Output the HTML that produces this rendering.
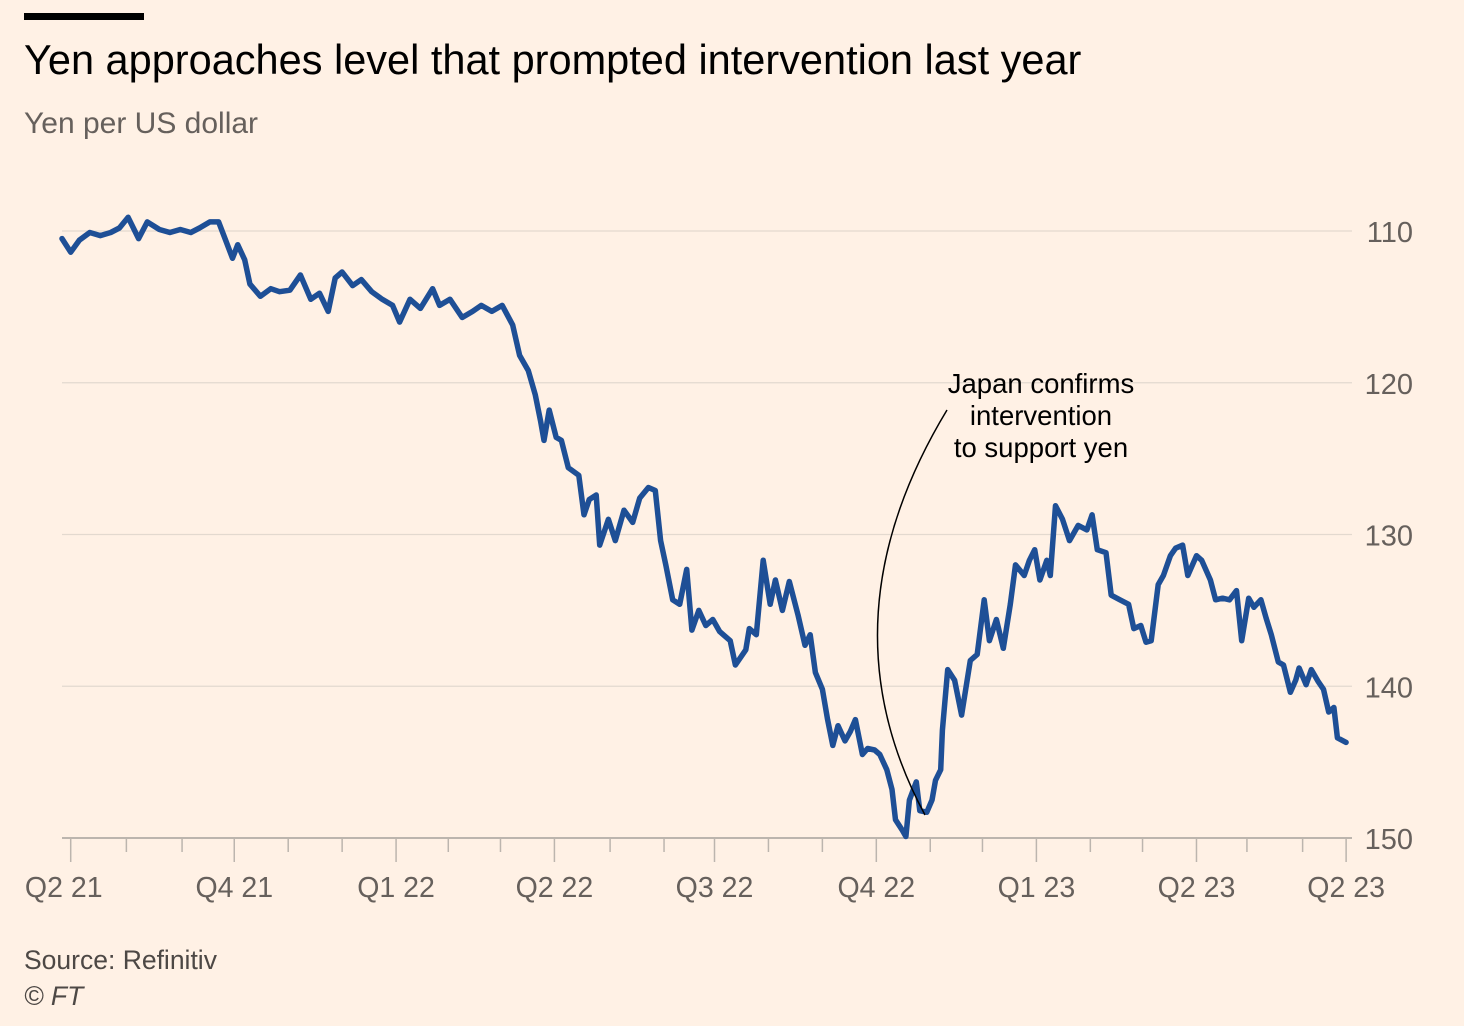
<!DOCTYPE html>
<html><head><meta charset="utf-8">
<style>
body{margin:0;background:#fff1e5;font-family:"Liberation Sans",sans-serif;}
#wrap{position:relative;width:1464px;height:1026px;overflow:hidden;background:#fff1e5;}
.t{position:absolute;white-space:nowrap;}
</style></head>
<body>
<div id="wrap">
<div style="position:absolute;left:24px;top:13px;width:120px;height:7px;background:#000"></div>
<div class="t" style="left:24px;top:36px;font-size:41.5px;color:#000">Yen approaches level that prompted intervention last year</div>
<div class="t" style="left:24px;top:107px;font-size:30px;color:#66605c">Yen per US dollar</div>
<svg id="chart" width="1464" height="1026" style="position:absolute;left:0;top:0" font-family="Liberation Sans, sans-serif"></svg>
<div class="t" style="left:24px;top:945px;font-size:26.5px;color:#4d4845">Source: Refinitiv</div>
<div class="t" style="left:24px;top:981px;font-size:26.5px;color:#4d4845;font-style:italic">© FT</div>
</div>
<script>
const days=[0,5,10,16,22,28,33,38,44,49,56,62,68,74,79,85,90,94,98,101,105,108,114,120,125,131,137,143,148,153,157,161,167,172,178,184,190,194,200,206,213,217,223,230,236,241,247,253,259,263,268,272,275,277,280,284,287,291,297,300,303,307,309,314,318,323,328,332,337,341,344,347,351,355,359,362,366,370,374,378,384,387,393,395,399,403,407,410,414,418,423,427,430,433,437,440,443,446,450,453,456,460,463,467,470,474,477,479,483,485,487,491,493,497,500,502,505,506,509,513,517,522,526,530,533,537,541,545,548,553,556,559,562,566,568,571,575,579,584,589,592,595,600,603,608,613,616,620,623,626,630,633,637,640,644,647,652,655,660,663,667,671,675,678,682,685,689,692,695,699,702,706,709,711,715,718,722,725,728,731,733,738];
const yen=[110.5,111.4,110.6,110.1,110.3,110.1,109.8,109.1,110.5,109.4,109.9,110.1,109.9,110.1,109.8,109.4,109.4,110.6,111.8,110.9,111.9,113.5,114.3,113.8,114.0,113.9,112.9,114.5,114.1,115.3,113.1,112.7,113.6,113.2,114.0,114.5,114.9,116.0,114.5,115.1,113.8,114.9,114.5,115.7,115.3,114.9,115.3,114.9,116.2,118.2,119.2,120.8,122.5,123.8,121.8,123.6,123.8,125.6,126.1,128.7,127.7,127.4,130.7,129.0,130.4,128.4,129.2,127.6,126.9,127.1,130.4,132.0,134.3,134.6,132.3,136.3,135.0,136.0,135.6,136.4,137.0,138.6,137.6,136.2,136.6,131.7,134.6,133.0,135.0,133.1,135.3,137.3,136.6,139.1,140.2,142.2,143.9,142.6,143.6,143.0,142.2,144.5,144.1,144.2,144.5,145.5,146.8,148.8,149.5,149.9,147.5,146.3,148.2,148.3,147.5,146.2,145.5,142.9,138.9,139.6,141.9,138.3,137.9,134.3,137.0,135.6,137.5,134.6,132.0,132.7,131.7,131.0,133.0,131.7,132.7,128.1,129.0,130.4,129.4,129.7,128.7,131.0,131.2,134.0,134.3,134.6,136.2,136.0,137.1,137.0,133.3,132.7,131.4,130.9,130.7,132.7,131.4,131.7,133.0,134.3,134.2,134.3,133.7,137.0,134.2,134.8,134.3,135.5,136.6,138.4,138.6,140.4,139.6,138.8,139.9,138.9,139.7,140.2,141.7,141.4,143.4,143.7];
const yTicks=[110,120,130,140,150];
const xLabels=["Q2 21","Q4 21","Q1 22","Q2 22","Q3 22","Q4 22","Q1 23","Q2 23","Q2 23"];
const xLabelDays=[1,99,192,283,375,468,560,652,738];
const monthDays=[5,37,69,99,130,161,192,222,252,283,315,346,375,406,437,468,499,529,560,591,621,652,681,713,738];

const NS="http://www.w3.org/2000/svg";
const svg=document.getElementById('chart');
const X=d=>62+d*1.74;
const Y=v=>231+(v-110)*15.175;
function mk(tag,attrs,parent){const e=document.createElementNS(NS,tag);for(const k in attrs)e.setAttribute(k,attrs[k]);(parent||svg).appendChild(e);return e;}

yTicks.forEach(v=>{
  const g=mk('line',{x1:62,x2:1352,y1:Y(v),y2:Y(v),stroke:v===150?'#bcb5ae':'#e3d9cf','stroke-width':v===150?2:1.3});
  
  
  const t=mk('text',{x:1413,y:Y(v)+11,'text-anchor':'end','font-size':29,fill:'#66605c'});
  t.textContent=v;
  
  
});
monthDays.forEach(d=>{
  const major=xLabelDays.some(q=>Math.abs(q-d)<5);
  const l=mk('line',{x1:X(d),x2:X(d),y1:Y(150),y2:Y(150)+(major?24:14),stroke:'#bcb5ae','stroke-width':1.5});
  
  
});
xLabels.forEach((s,i)=>{
  const t=mk('text',{x:X(xLabelDays[i]),y:897,'text-anchor':'middle','font-size':28.5,fill:'#66605c'});
  t.textContent=s;
  
  
});
const n=Math.min(days.length,yen.length);
let d='';
for(let i=0;i<n;i++)d+=(i?'L':'M')+X(days[i]).toFixed(1)+' '+Y(yen[i]).toFixed(1);
const p=mk('path',{d:d,fill:'none',stroke:'#1e4f96','stroke-width':5.5,'stroke-linejoin':'round','stroke-linecap':'round'});



const c=mk('path',{d:'M947 410 Q 820 620 925 815',fill:'none',stroke:'#000','stroke-width':1.5});


["Japan confirms","intervention","to support yen"].forEach((s,i)=>{
  const t=mk('text',{x:1041,y:393+i*32,'text-anchor':'middle','font-size':27.5,fill:'#000'});
  t.textContent=s;
  
  
});
</script>
</body></html>
